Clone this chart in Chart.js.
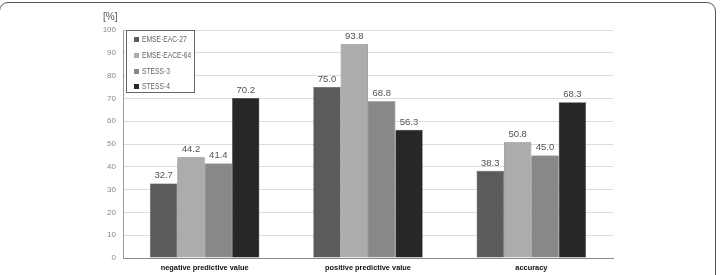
<!DOCTYPE html>
<html><head><meta charset="utf-8">
<script src="https://cdn.jsdelivr.net/npm/chart.js@4/dist/chart.umd.min.js"></script>
<style>
html,body{margin:0;padding:0;background:#fff;overflow:hidden;}
#wrap{position:relative;width:720px;height:275px;}
#frame{position:absolute;left:-1px;top:2px;width:717px;height:300px;border:1.5px solid #555;border-radius:9px;box-sizing:border-box;pointer-events:none;}
#unit{position:absolute;left:103px;top:11px;font:10px "Liberation Sans",Arial,sans-serif;color:#555;}
#legend{position:absolute;left:126px;top:30px;width:69px;height:63px;border:1.5px solid #666;box-sizing:border-box;background:#fff;font:8.3px "Liberation Sans",Arial,sans-serif;color:#666;}
.li{position:absolute;left:7px;white-space:nowrap;}
.sw{display:inline-block;width:5px;height:5px;margin-right:3px;vertical-align:0px;}
.tx{display:inline-block;transform:scaleX(0.81);transform-origin:left center;}
</style></head>
<body><div id="wrap"><canvas id="c" width="720" height="275"></canvas><div id="unit">[%]</div><div id="legend"></div><div id="frame"></div></div>
<script>
const categories = ["negative predictive value","positive predictive value","accuracy"];
const seriesNames = ["EMSE-EAC-27","EMSE-EACE-64","STESS-3","STESS-4"];
const emseEac27 = [32.7, 75.0, 38.3];
const emseEace64 = [44.2, 93.8, 50.8];
const stess3 = [41.4, 68.8, 45.0];
const stess4 = [70.2, 56.3, 68.3];
const yTicks = [0,10,20,30,40,50,60,70,80,90,100];
const colors = ["#5b5b5b","#acacac","#888888","#272727"];

const seriesData = [emseEac27, emseEace64, stess3, stess4];
const datasets = seriesNames.map((n,i)=>({label:n,data:seriesData[i],backgroundColor:colors[i],borderColor:"#3a3a3a",borderWidth:0.5,categoryPercentage:0.67,barPercentage:1}));

const labelPlugin = {
  id:'vals',
  afterDatasetsDraw(chart){
    const ctx = chart.ctx;
    ctx.save();
    ctx.font = '9.5px "Liberation Sans", Arial, sans-serif';
    ctx.fillStyle = '#555';
    ctx.textAlign = 'center';
    ctx.textBaseline = 'bottom';
    chart.data.datasets.forEach((ds,di)=>{
      chart.getDatasetMeta(di).data.forEach((bar,i)=>{
        ctx.fillText(ds.data[i].toFixed(1), bar.x, bar.y - 3);
      });
    });
    ctx.restore();
  }
};

new Chart(document.getElementById('c'),{
  type:'bar',
  data:{labels:categories,datasets},
  options:{
    responsive:false,animation:false,
    layout:{padding:{left:0,right:107,top:30,bottom:0}},
    plugins:{legend:{display:false},tooltip:{enabled:false}},
    scales:{
      x:{
        grid:{display:false,drawTicks:false},
        border:{color:'#888',width:1},
        ticks:{padding:6,color:'#111',font:{family:'"Liberation Sans", Arial, sans-serif',size:7.4,weight:'bold'}},
        afterFit:s=>{s.height=17;}
      },
      y:{
        min:0,max:100,
        afterBuildTicks:s=>{s.ticks=yTicks.map(v=>({value:v}));},
        grid:{color:'#dcdcdc',drawTicks:false},
        border:{color:'#999',width:1},
        ticks:{padding:7,color:'#888',font:{family:'"Liberation Sans", Arial, sans-serif',size:8}},
        afterFit:s=>{s.width=123;}
      }
    }
  },
  plugins:[labelPlugin]
});

const lg = document.getElementById('legend');
const tops=[3,19,35,50];
seriesNames.forEach((n,i)=>{
  const d=document.createElement('div');d.className='li';d.style.top=tops[i]+'px';
  d.innerHTML='<span class="sw" style="background:'+colors[i]+'"></span><span class="tx">'+n+'</span>';
  lg.appendChild(d);
});
</script></body></html>
